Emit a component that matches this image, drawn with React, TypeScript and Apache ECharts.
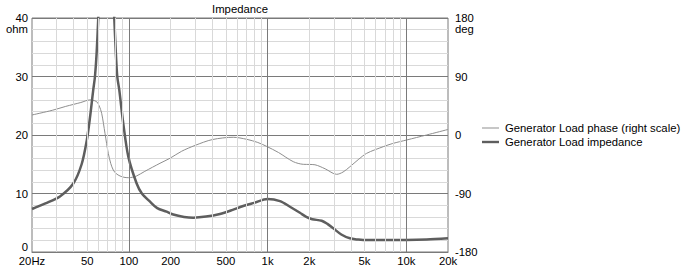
import React, { useEffect, useRef } from "react";
import * as echarts from "echarts";

// Impedance curve (Hz, ohm)
const impFreq = [20, 25, 31.8, 39.7, 45.6, 49.6, 52.4, 55.3, 56.9, 58.5, 60.1, 62.5, 65, 68.6, 72, 75, 78.4, 80.5, 82.4, 85.2, 91, 99, 113.7, 124, 142, 160, 187, 209, 250, 291, 360, 453, 560, 667, 800, 1000, 1228, 1449, 1711, 1900, 2100, 2454, 2700, 2975, 3400, 3924, 4500, 4893, 6000, 8000, 10000, 14000, 20000];
const impOhm = [7.35, 8.3, 9.5, 11.7, 15.0, 19.0, 23.0, 27.7, 30, 34, 40, 50, 58, 62, 58, 50, 40, 34, 30, 27.7, 22, 16.3, 11.7, 10.0, 8.6, 7.5, 6.9, 6.4, 6.0, 5.87, 6.05, 6.5, 7.2, 7.86, 8.4, 9.05, 8.7, 7.74, 6.7, 6.0, 5.6, 5.35, 4.8, 4.05, 3.0, 2.34, 2.12, 2.05, 2.04, 2.05, 2.06, 2.15, 2.34];

// Phase curve (Hz, degrees)
const phaseFreq = [20, 28, 35, 45, 52.4, 55, 58.5, 61, 63.6, 67.2, 71, 74, 77.1, 81, 86.2, 92, 99, 106, 113.7, 130, 167.5, 197.7, 240, 300, 400, 566, 706, 850, 984, 1200, 1531, 1808, 2000, 2196, 2600, 3148, 3500, 3924, 4500, 5180, 6820, 8000, 10060, 14000, 20000];
const phaseDeg = [30.8, 38, 44, 50, 54, 53.5, 51.3, 45, 33.4, 2.6, -28.2, -44, -53.8, -59.5, -63, -65, -65.7, -65, -63, -56, -43.5, -35.8, -25, -16, -7, -3.5, -6.6, -11.5, -17.5, -27, -41, -45.1, -45.3, -45.8, -52, -60.5, -57, -48.8, -38, -28.2, -18, -13, -7.7, 0, 8.5];

// Axis ticks
const xLabelValues = [20, 50, 100, 200, 500, 1000, 2000, 5000, 10000, 20000];
const xLabelTexts = ["20Hz", "50", "100", "200", "500", "1k", "2k", "5k", "10k", "20k"];
const xMinorGrid = [30, 40, 50, 60, 70, 80, 90, 200, 300, 400, 500, 600, 700, 800, 900, 2000, 3000, 4000, 5000, 6000, 7000, 8000, 9000];
const xMajorGrid = [100, 1000, 10000];

const seriesNames = ["Generator Load phase (right scale)", "Generator Load impedance"];

const FONT = "'Liberation Sans', Arial, sans-serif";
const FS = 11.3;

export default function App() {
  const ref = useRef<HTMLDivElement>(null);
  useEffect(() => {
    if (!ref.current) return;
    document.body.style.margin = "0";
    const chart = echarts.init(ref.current, undefined, { renderer: "svg" });
    const impData = impFreq.map((f, i) => [f, impOhm[i]]);
    const phaseData = phaseFreq.map((f, i) => [f, phaseDeg[i]]);
    chart.setOption({
      animation: false,
      backgroundColor: "#ffffff",
      textStyle: { fontFamily: FONT },
      title: {
        text: "Impedance",
        left: 240,
        textAlign: "center",
        top: 3,
        padding: 0,
        textStyle: { fontFamily: FONT, fontSize: FS, fontWeight: "normal", color: "#000" },
      },
      legend: {
        orient: "vertical",
        left: 482,
        top: 121,
        padding: 0,
        itemWidth: 17,
        itemHeight: 14,
        itemGap: 0,
        data: [
          { name: seriesNames[0], icon: "path://M0,0M17,14M0,6.5H17V7.5H0Z" },
          { name: seriesNames[1], icon: "path://M0,0M17,14M0,5.8H17V8.2H0Z" },
        ],
        textStyle: { fontFamily: FONT, fontSize: FS, color: "#000", lineHeight: 14, padding: [0, 0, 0, 1] },
        selectedMode: false,
      },
      grid: {
        left: 32,
        right: 238,
        top: 18,
        bottom: 18,
        show: true,
        borderColor: "#7a7a7a",
        borderWidth: 1,
        backgroundColor: "#ffffff",
      },
      xAxis: {
        type: "log",
        logBase: 10,
        min: 20,
        max: 20000,
        axisLine: { show: true, lineStyle: { color: "#7a7a7a" } },
        axisTick: { show: false },
        splitLine: { show: false },
        axisLabel: {
          customValues: xLabelValues,
          formatter: (v: number) => {
            const idx = xLabelValues.findIndex((x) => Math.abs(x - v) / x < 1e-6);
            return idx >= 0 ? xLabelTexts[idx] : "";
          },
          margin: 3,
          fontFamily: FONT,
          fontSize: FS,
          color: "#000",
          showMinLabel: true,
          showMaxLabel: true,
          hideOverlap: false,
        },
      },
      yAxis: [
        {
          type: "value",
          min: 0,
          max: 40,
          interval: 10,
          position: "left",
          axisLine: { show: false },
          axisTick: { show: false },
          splitLine: { show: true, lineStyle: { color: "#7a7a7a", width: 1 } },
          minorTick: { show: false, splitNumber: 5 },
          minorSplitLine: { show: true, lineStyle: { color: "#d9d9d9", width: 1 } },
          axisLabel: {
            margin: 4,
            fontFamily: FONT,
            fontSize: FS,
            lineHeight: 10,
            color: "#000",
            formatter: (v: number) => (v === 0 ? "{z|0}" : String(v)),
            rich: { z: { fontFamily: FONT, fontSize: FS, lineHeight: 10, color: "#000", padding: [0, 0, 11, 0] } },
          },
        },
        {
          type: "value",
          min: -180,
          max: 180,
          interval: 90,
          position: "right",
          axisLine: { show: false },
          axisTick: { show: false },
          splitLine: { show: false },
          axisLabel: { margin: 7, fontFamily: FONT, fontSize: FS, lineHeight: 10, color: "#000" },
        },
      ],
      graphic: [
        { type: "text", right: 686 - 28, top: 23, style: { text: "ohm", fontFamily: FONT, fontSize: FS, lineHeight: 11, fill: "#000", textAlign: "right" } },
        { type: "text", left: 455, top: 23, style: { text: "deg", fontFamily: FONT, fontSize: FS, lineHeight: 11, fill: "#000" } },
      ],
      series: [
        {
          name: "minorGrid",
          type: "line",
          data: [],
          silent: true,
          z: 1,
          markLine: {
            silent: true,
            symbol: "none",
            label: { show: false },
            lineStyle: { color: "#d9d9d9", width: 1, type: "solid" },
            data: xMinorGrid.map((v) => ({ xAxis: v })),
            animation: false,
          },
        },
        {
          name: "majorGrid",
          type: "line",
          data: [],
          silent: true,
          z: 1,
          markLine: {
            silent: true,
            symbol: "none",
            label: { show: false },
            lineStyle: { color: "#7a7a7a", width: 1, type: "solid" },
            data: xMajorGrid.map((v) => ({ xAxis: v })),
            animation: false,
          },
        },
        {
          name: seriesNames[0],
          type: "line",
          yAxisIndex: 1,
          data: phaseData,
          symbol: "none",
          smooth: 0.3,
          z: 3,
          color: "#8e8e8e",
          lineStyle: { color: "#8e8e8e", width: 1 },
        },
        {
          name: seriesNames[1],
          type: "line",
          yAxisIndex: 0,
          data: impData,
          symbol: "none",
          smooth: 0.3,
          clip: true,
          z: 4,
          color: "#5e5e5e",
          lineStyle: { color: "#5e5e5e", width: 2.5 },
        },
      ],
    });
    return () => chart.dispose();
  }, []);
  return <div ref={ref} style={{ width: 686, height: 270 }} />;
}
